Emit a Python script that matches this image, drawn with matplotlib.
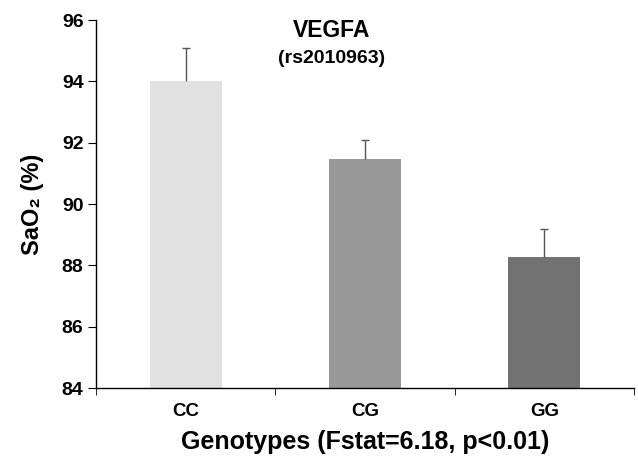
import numpy as np
from matplotlib import pyplot as plt

plt.rcParams['font.family'] = ['Liberation Sans', 'DejaVu Sans']
plt.rcParams['font.weight'] = 'bold'

# Data
genotypes = ['CC', 'CG', 'GG']
sao2_mean = [94.0, 91.47, 88.27]
sao2_err = [1.1, 0.62, 0.93]
bar_colors = ['#e1e1e1', '#999999', '#727272']

fig = plt.figure(figsize=(6.38, 4.58), dpi=100)
ax = fig.add_axes([0.1505, 0.1528, 0.8432, 0.8035])

x = np.arange(len(genotypes))
mean = np.array(sao2_mean)
err = np.array(sao2_err)
ax.bar(x, mean - 84, bottom=84, width=0.4, color=bar_colors, zorder=2)
# upper error bars only, with a cap on the top end
ax.vlines(x, mean, mean + err, color='#555555', lw=1, zorder=3)
ax.plot(x, mean + err, ls='none', marker='_', ms=6, mew=1, color='#555555', zorder=3)

ax.set_xlim(-0.5, 2.5)
ax.set_ylim(84, 96)
ax.set_yticks(np.arange(84, 97, 2))
ax.set_xticks(x)
ax.set_xticklabels(genotypes)
ax.set_xticks([-0.5, 0.5, 1.5, 2.5], minor=True)
ax.tick_params(axis='x', which='major', length=0, labelsize=13.5, pad=11)
ax.tick_params(axis='x', which='minor', length=5, direction='out')
ax.tick_params(axis='y', length=6, direction='out', labelsize=14, pad=3)

for s in ['top', 'right']:
    ax.spines[s].set_visible(False)
for s in ['left', 'bottom']:
    ax.spines[s].set_linewidth(1)

ax.set_xlabel('Genotypes (Fstat=6.18, p<0.01)', fontsize=18, fontweight='bold', labelpad=7)
ax.set_ylabel('SaO\u2082 (%)', fontsize=17, fontweight='bold', labelpad=13)

ax.text(0.437, (458 - 30 - 70) / 368, 'VEGFA', transform=ax.transAxes,
        ha='center', va='center', fontsize=16.5, fontweight='bold')
ax.text(0.437, (458 - 58 - 70) / 368, '(rs2010963)', transform=ax.transAxes,
        ha='center', va='center', fontsize=14, fontweight='bold')

fig.savefig('out.png', dpi=100)
